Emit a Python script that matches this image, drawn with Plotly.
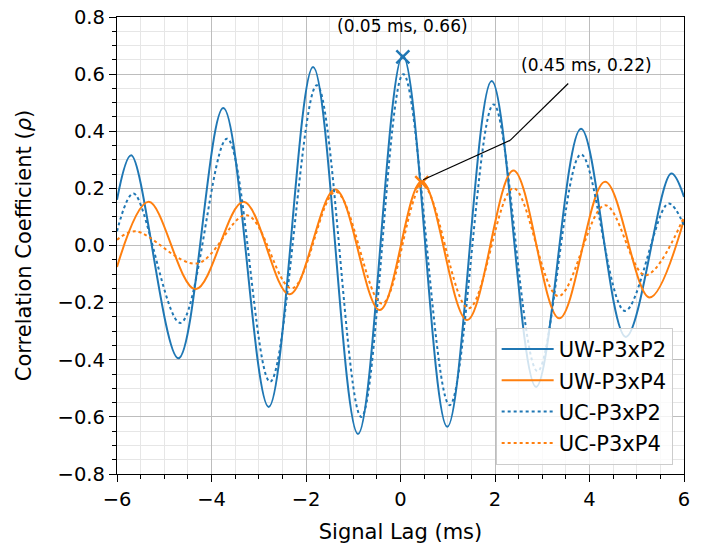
import plotly.graph_objects as go

# ---- data (extrema + edge values) ----
uw_p2_x = [-6, -5.70, -4.70, -3.75, -2.79, -1.85, -0.90, 0.05, 0.99, 1.93, 2.87, 3.82, 4.77, 5.73, 6]
uw_p2_y = [0.16, 0.316, -0.395, 0.481, -0.565, 0.625, -0.660, 0.665, -0.635, 0.576, -0.495, 0.409, -0.32, 0.252, 0.17]

uw_p4_x = [-6, -5.33, -4.34, -3.32, -2.35, -1.38, -0.44, 0.45, 1.41, 2.39, 3.36, 4.33, 5.27, 6]
uw_p4_y = [-0.075, 0.153, -0.153, 0.153, -0.171, 0.196, -0.226, 0.225, -0.261, 0.263, -0.255, 0.223, -0.182, 0.09]

uc_p2_x = [-6, -5.65, -4.66, -3.67, -2.76, -1.77, -0.83, 0.06, 1.04, 1.97, 2.90, 3.82, 4.75, 5.67, 6]
uc_p2_y = [0.05, 0.182, -0.271, 0.374, -0.477, 0.561, -0.60, 0.60, -0.559, 0.494, -0.44, 0.319, -0.229, 0.147, 0.07]

uc_p4_x = [-6, -5.61, -4.31, -3.25, -2.30, -1.37, -0.39, 0.47, 1.44, 2.39, 3.34, 4.33, 5.18, 6]
uc_p4_y = [0.02, 0.05, -0.063, 0.106, -0.15, 0.188, -0.203, 0.21, -0.22, 0.20, -0.177, 0.141, -0.104, 0.10]

series_names = ["UW-P3xP2", "UW-P3xP4", "UC-P3xP2", "UC-P3xP4"]

peak_p2 = (0.05, 0.66)
peak_p4 = (0.45, 0.22)
peak_p2_label = "(0.05 ms, 0.66)"
peak_p4_label = "(0.45 ms, 0.22)"

BLUE = "#1f77b4"
ORANGE = "#ff7f0e"
FONT = "DejaVu Sans"

fig = go.Figure()
specs = [
    (uw_p2_x, uw_p2_y, BLUE, "solid"),
    (uw_p4_x, uw_p4_y, ORANGE, "solid"),
    (uc_p2_x, uc_p2_y, BLUE, "dot"),
    (uc_p4_x, uc_p4_y, ORANGE, "dot"),
]
for i, (xs, ys, c, d) in enumerate(specs):
    fig.add_trace(go.Scatter(
        x=xs, y=ys, mode="lines", name=series_names[i],
        line=dict(color=c, width=2, dash=d, shape="spline", smoothing=1.0),
        legendgroup=f"g{i}",
    ))

# markers at annotated points
fig.add_trace(go.Scatter(x=[peak_p2[0]], y=[peak_p2[1]], mode="markers", showlegend=False,
                         marker=dict(symbol="x-thin", size=13, line=dict(color=BLUE, width=2.5))))
fig.add_trace(go.Scatter(x=[peak_p4[0]], y=[peak_p4[1]], mode="markers", showlegend=False,
                         marker=dict(symbol="x-thin", size=13, line=dict(color=ORANGE, width=2.5))))

# annotation 1 (text only)
fig.add_annotation(x=peak_p2[0], y=0.767, text=peak_p2_label, showarrow=False,
                   xanchor="center", yanchor="middle", font=dict(family=FONT, size=17, color="black"))
# annotation 2 with bent connector
bend = (2.32, 0.368)
tail = (3.55, 0.567)
fig.add_annotation(x=3.94, y=0.632, text=peak_p4_label, showarrow=False,
                   xanchor="center", yanchor="middle", font=dict(family=FONT, size=17, color="black"))
fig.add_shape(type="line", x0=tail[0], y0=tail[1], x1=bend[0], y1=bend[1],
              line=dict(color="black", width=1.2), xref="x", yref="y")
fig.add_shape(type="line", x0=bend[0], y0=bend[1], x1=peak_p4[0] + 0.03, y1=peak_p4[1] + 0.01,
              line=dict(color="black", width=1.2), xref="x", yref="y")

axis_common = dict(
    showline=True, linecolor="black", linewidth=1.3, mirror=True,
    ticks="outside", ticklen=7, tickwidth=1.2, tickcolor="black",
    showgrid=True, gridcolor="#bdbdbd", gridwidth=1,
    zeroline=False, automargin=False,
    tickfont=dict(family=FONT, size=19.5, color="black"),
)

fig.update_xaxes(
    range=[-6, 6], dtick=2, tick0=0,
    minor=dict(dtick=0.5, ticks="outside", ticklen=4, tickcolor="black", showgrid=True,
               gridcolor="#e6e6e6", gridwidth=1),
    title=dict(text="Signal Lag (ms)", font=dict(family=FONT, size=21, color="black"), standoff=14),
    **axis_common,
)
fig.update_yaxes(
    range=[-0.8, 0.8], dtick=0.2, tick0=0, tickformat=".1f",
    minor=dict(dtick=0.05, ticks="outside", ticklen=4, tickcolor="black", showgrid=True,
               gridcolor="#e6e6e6", gridwidth=1),
    title=dict(text="Correlation Coefficient (<i>ρ</i>)", font=dict(family=FONT, size=21, color="black"), standoff=20),
    **axis_common,
)

fig.update_layout(
    width=703, height=544,
    margin=dict(l=117, r=19, t=17, b=70),
    paper_bgcolor="white", plot_bgcolor="white",
    font=dict(family=FONT, color="black"),
    legend=dict(
        x=0.98, y=0.02, xanchor="right", yanchor="bottom",
        bgcolor="rgba(255,255,255,0.8)", bordercolor="#cccccc", borderwidth=1,
        font=dict(family=FONT, size=21, color="black"),
        tracegroupgap=1, itemwidth=52, traceorder="grouped",
    ),
)

fig.write_html("out.html")
